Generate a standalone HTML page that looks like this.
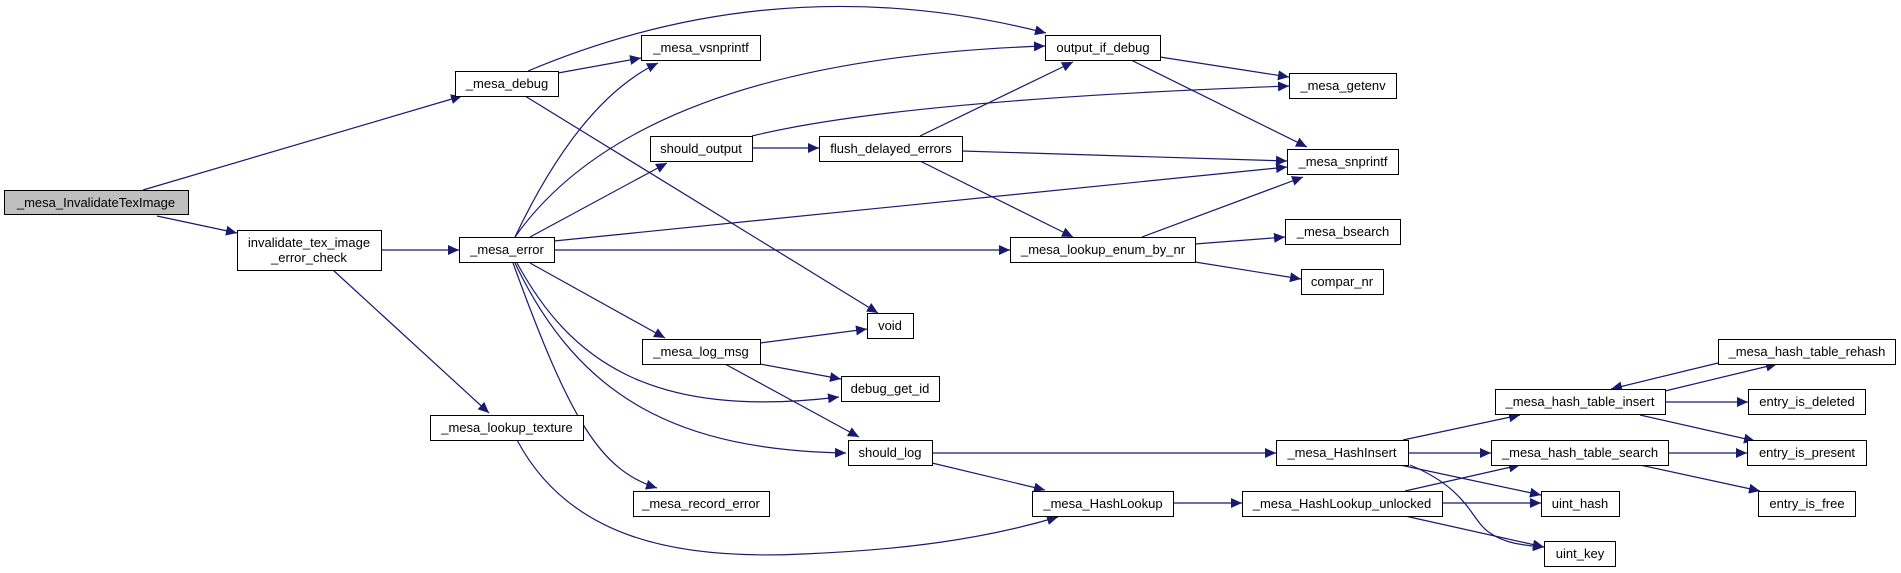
<!DOCTYPE html>
<html><head><meta charset="utf-8"><style>
html,body{margin:0;padding:0;background:#fff;}
svg{display:block;}
text{font-family:"Liberation Sans",Arial,sans-serif;font-size:13px;fill:#000;}
</style></head><body>
<svg width="1901" height="573" viewBox="0 0 1901 573" xmlns="http://www.w3.org/2000/svg">
<defs>
<marker id="a" markerUnits="userSpaceOnUse" markerWidth="12" markerHeight="10" refX="11" refY="5" orient="auto">
<path d="M0,0 L11,5 L0,10 Z" fill="#191970"/>
</marker>
</defs>
<g fill="none" stroke="#191970" stroke-width="1.2" marker-end="url(#a)">
<path d="M143,190 L462,96"/>
<path d="M157,216 L237,233"/>
<path d="M381,250 L459,250"/>
<path d="M333,270 L489,413"/>
<path d="M558,73 L641,58"/>
<path d="M528,71 Q780,-35 1046,33"/>
<path d="M525,96 L878,313"/>
<path d="M515,237 Q580,100 658,63"/>
<path d="M515,237 Q640,60 1045,46"/>
<path d="M530,237 L667,163"/>
<path d="M554,241 L1287,167"/>
<path d="M554,250 L1010,250"/>
<path d="M530,263 L665,338"/>
<path d="M517,263 C570,360 650,420 839,397"/>
<path d="M515,263 C580,400 680,450 846,453"/>
<path d="M513,263 C570,420 600,470 657,488"/>
<path d="M752,148 L819,148"/>
<path d="M752,136 Q900,100 1289,86"/>
<path d="M920,136 L1073,62"/>
<path d="M962,151 L1287,161"/>
<path d="M920,161 L1073,237"/>
<path d="M1160,57 L1289,77"/>
<path d="M1131,60 L1307,147"/>
<path d="M1142,237 L1303,177"/>
<path d="M1195,244 L1285,237"/>
<path d="M1195,262 L1301,279"/>
<path d="M760,343 L867,329"/>
<path d="M760,364 L841,379"/>
<path d="M725,364 L859,437"/>
<path d="M932,453 L1276,453"/>
<path d="M932,463 L1045,490"/>
<path d="M517,440 C570,540 680,560 803,554 C900,550 980,540 1058,517"/>
<path d="M1173,503 L1242,503"/>
<path d="M1403,440 L1520,415"/>
<path d="M1408,453 L1491,453"/>
<path d="M1400,465 L1541,495"/>
<path d="M1410,465 C1470,490 1470,520 1490,533 C1505,543 1520,545 1544,547"/>
<path d="M1405,491 L1520,465"/>
<path d="M1442,503 L1541,503"/>
<path d="M1405,516 L1544,547"/>
<path d="M1665,391 L1777,364"/>
<path d="M1718,363 L1611,389"/>
<path d="M1665,402 L1748,402"/>
<path d="M1640,415 L1755,441"/>
<path d="M1668,453 L1747,453"/>
<path d="M1640,465 L1760,491"/>
</g>
<g stroke="#000" stroke-width="1" fill="#fff">
<rect x="4.5" y="190.5" width="184" height="24" fill="#bfbfbf"/>
<rect x="237.5" y="230.5" width="144" height="40"/>
<rect x="455.5" y="71.5" width="103" height="25"/>
<rect x="459.5" y="237.5" width="95" height="25"/>
<rect x="641.5" y="35.5" width="119" height="25"/>
<rect x="1045.5" y="35.5" width="115" height="25"/>
<rect x="650.5" y="136.5" width="102" height="25"/>
<rect x="819.5" y="136.5" width="143" height="25"/>
<rect x="1010.5" y="237.5" width="185" height="25"/>
<rect x="1289.5" y="73.5" width="107" height="25"/>
<rect x="1287.5" y="149.5" width="111" height="25"/>
<rect x="1285.5" y="219.5" width="115" height="25"/>
<rect x="1301.5" y="269.5" width="82" height="25"/>
<rect x="867.5" y="313.5" width="46" height="25"/>
<rect x="642.5" y="339.5" width="118" height="25"/>
<rect x="841.5" y="376.5" width="98" height="25"/>
<rect x="430.5" y="415.5" width="153" height="25"/>
<rect x="848.5" y="440.5" width="84" height="25"/>
<rect x="633.5" y="491.5" width="136" height="25"/>
<rect x="1032.5" y="491.5" width="141" height="25"/>
<rect x="1718.5" y="339.5" width="177" height="25"/>
<rect x="1495.5" y="389.5" width="170" height="25"/>
<rect x="1748.5" y="389.5" width="117" height="25"/>
<rect x="1276.5" y="440.5" width="132" height="25"/>
<rect x="1491.5" y="440.5" width="177" height="25"/>
<rect x="1747.5" y="440.5" width="119" height="25"/>
<rect x="1242.5" y="491.5" width="200" height="25"/>
<rect x="1541.5" y="491.5" width="78" height="25"/>
<rect x="1758.5" y="491.5" width="97" height="25"/>
<rect x="1544.5" y="541.5" width="71" height="25"/>
</g>
<g text-anchor="middle">
<text x="96" y="207">_mesa_InvalidateTexImage</text>
<text x="309" y="247">invalidate_tex_image</text>
<text x="309" y="262">_error_check</text>
<text x="507" y="88">_mesa_debug</text>
<text x="507" y="254">_mesa_error</text>
<text x="701" y="52">_mesa_vsnprintf</text>
<text x="1103" y="52">output_if_debug</text>
<text x="701" y="153">should_output</text>
<text x="891" y="153">flush_delayed_errors</text>
<text x="1103" y="254">_mesa_lookup_enum_by_nr</text>
<text x="1343" y="90">_mesa_getenv</text>
<text x="1343" y="166">_mesa_snprintf</text>
<text x="1343" y="236">_mesa_bsearch</text>
<text x="1342" y="286">compar_nr</text>
<text x="890" y="330">void</text>
<text x="701" y="356">_mesa_log_msg</text>
<text x="890" y="393">debug_get_id</text>
<text x="507" y="432">_mesa_lookup_texture</text>
<text x="890" y="457">should_log</text>
<text x="701" y="508">_mesa_record_error</text>
<text x="1103" y="508">_mesa_HashLookup</text>
<text x="1807" y="356">_mesa_hash_table_rehash</text>
<text x="1580" y="406">_mesa_hash_table_insert</text>
<text x="1807" y="406">entry_is_deleted</text>
<text x="1342" y="457">_mesa_HashInsert</text>
<text x="1580" y="457">_mesa_hash_table_search</text>
<text x="1807" y="457">entry_is_present</text>
<text x="1342" y="508">_mesa_HashLookup_unlocked</text>
<text x="1580" y="508">uint_hash</text>
<text x="1807" y="508">entry_is_free</text>
<text x="1580" y="558">uint_key</text>
</g>
</svg>
</body></html>
